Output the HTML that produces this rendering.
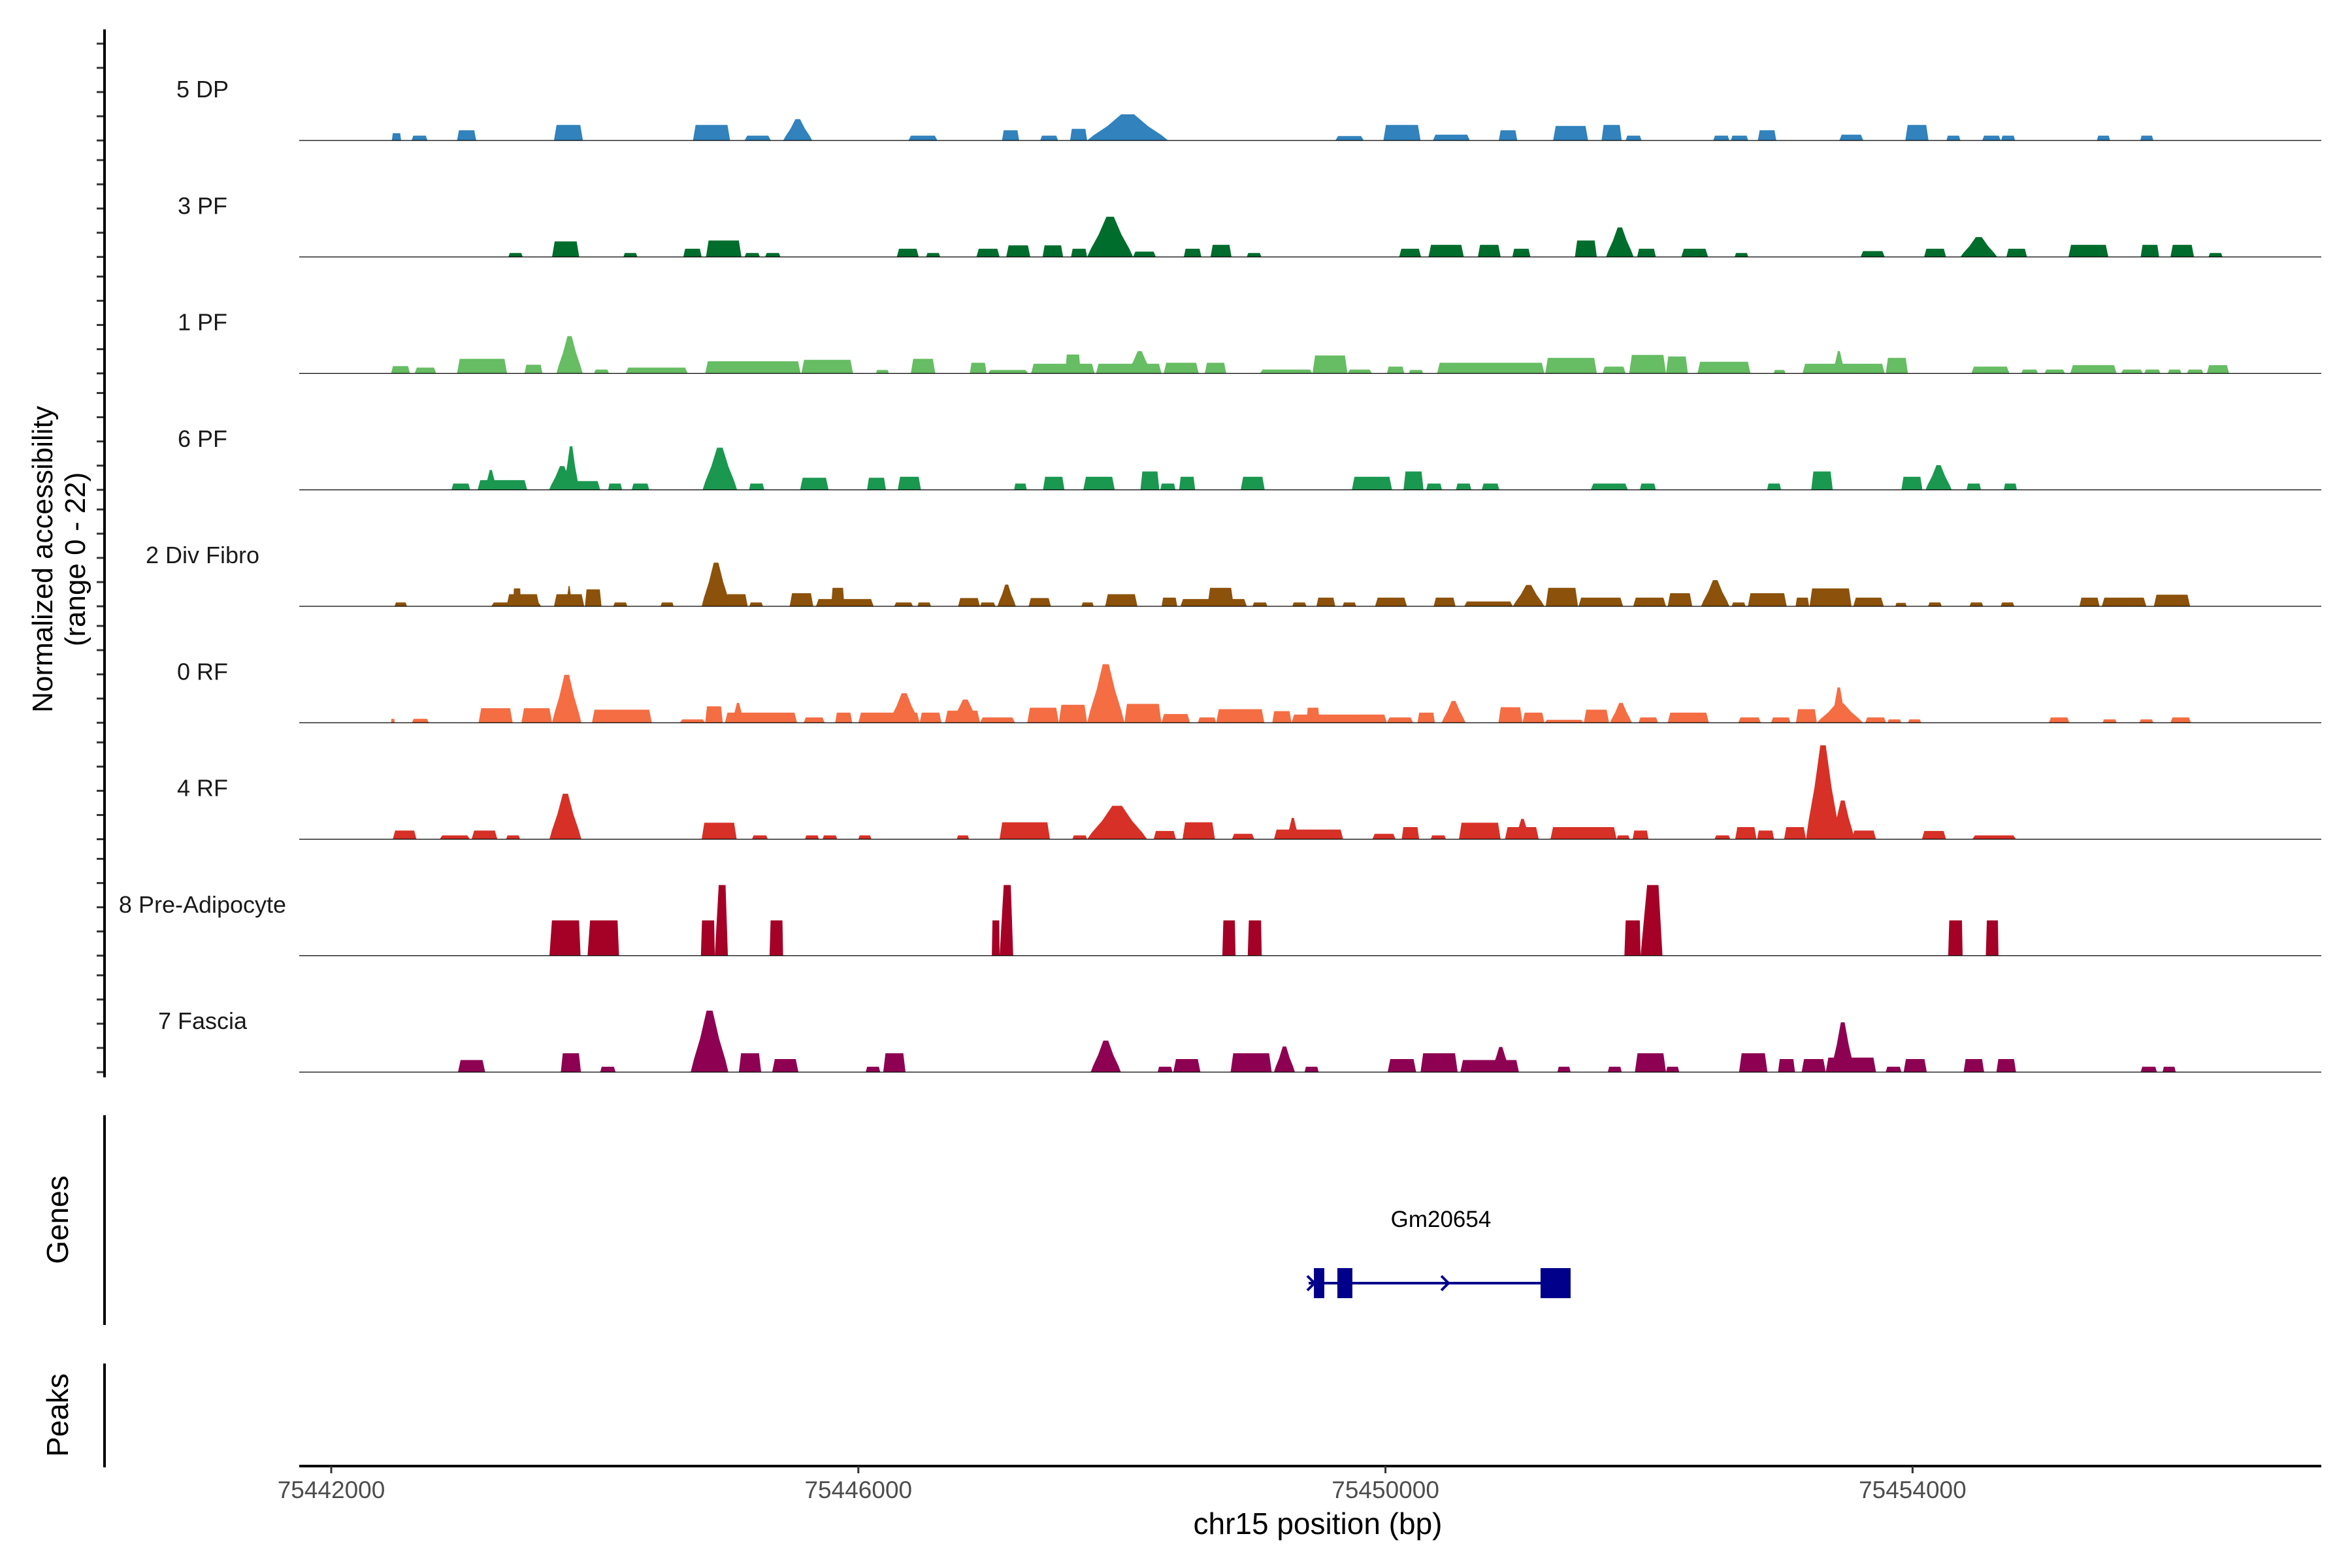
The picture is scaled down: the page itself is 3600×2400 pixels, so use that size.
<!DOCTYPE html>
<html><head><meta charset="utf-8"><title>Coverage plot chr15</title>
<style>
html,body{margin:0;padding:0;background:#fff;}
svg{display:block;font-family:"Liberation Sans",Arial,sans-serif;}
</style></head>
<body>
<svg id="chart" xmlns="http://www.w3.org/2000/svg" width="3600" height="2400" viewBox="0 0 3600 2400">
<rect x="0" y="0" width="3600" height="2400" fill="#fff"/>
<g id="tracks"></g>
<g id="yaxis"></g>
<text transform="translate(80,856) rotate(-90)" text-anchor="middle" font-size="44" fill="#000">Normalized accessibility</text>
<text transform="translate(130,856) rotate(-90)" text-anchor="middle" font-size="44" fill="#000">(range 0 - 22)</text>
<line x1="160" y1="1707" x2="160" y2="2028" stroke="#000" stroke-width="4"/>
<text transform="translate(104,1867) rotate(-90)" text-anchor="middle" font-size="46" fill="#000">Genes</text>
<line x1="160" y1="2087" x2="160" y2="2246" stroke="#000" stroke-width="4"/>
<text transform="translate(104,2166) rotate(-90)" text-anchor="middle" font-size="46" fill="#000">Peaks</text>
<g id="genes"></g>
<g id="xaxis"></g>
<text x="2017" y="2364" text-anchor="middle" font-size="46" fill="#000" dy="-16">chr15 position (bp)</text>
</svg>
<script>
// ---- data ----
const trackNames = ["5 DP","3 PF","1 PF","6 PF","2 Div Fibro","0 RF","4 RF","8 Pre-Adipocyte","7 Fascia"];
const trackColors = ["#3182BD","#006D2C","#66BD63","#1A9850","#8C510A","#F46D43","#D73027","#A50026","#8E0152"];
const xTicks = [75442000,75446000,75450000,75454000];
const xTickLabels = ["75442000","75446000","75450000","75454000"];
const yTicks = [0,5,10,15,20];
const yMax = 22;
const geneName = "Gm20654";
const geneStart = 75449417, geneEnd = 75451405;
const geneExons = [[75449457,75449536],[75449635,75449749],[75451177,75451405]];
const geneStrandArrows = [75449417,75450434];

const dp5 = [[75442460,75442530,1.5],[75442610,75442730,1.0],[75442955,75443100,2.1],[75443690,75443910,3.2],[75444745,75445027,3.2],[75445137,75445336,1.0],[75445430,75445650,4.4],[75446380,75446600,1.0],
[75447090,75447220,2.1],[75447380,75447515,1.0],[75447607,75447736,2.4],[75447736,75448351,5.4],[75449620,75449835,0.9],[75449984,75450266,3.2],[75450360,75450640,1.2],[75450860,75451000,2.1],[75451272,75451538,3.0],[75451640,75451793,3.2],[75451823,75451943,1.0],
[75452488,75452610,1.0],[75452620,75452753,1.0],[75452826,75452966,2.1],[75453444,75453626,1.2],[75453945,75454121,3.2],[75454257,75454363,1.0],[75454529,75454669,1.0],[75454672,75454778,1.0],[75455399,75455499,1.0],[75455728,75455827,1.0]];
const pf3 = [[75443344,75443453,0.8],[75443676,75443882,3.2],[75444217,75444323,0.8],[75444672,75444811,1.7],[75444844,75445113,3.4],[75445137,75445253,0.8],[75445293,75445409,0.8],[75446292,75446458,1.7],[75446514,75446621,0.8],[75446896,75447072,1.7],
[75447122,75447305,2.4],[75447398,75447554,2.4],[75447614,75447736,1.7],[75447736,75448085,8.3],[75448085,75448258,1.1],[75448470,75448603,1.7],[75448673,75448832,2.5],[75448948,75449058,0.8],[75450104,75450270,1.7],[75450326,75450595,2.5],[75450701,75450874,2.5],[75450963,75451100,1.7],[75451438,75451604,3.4],[75451674,75451883,6.1],[75451910,75452052,1.7],
[75452245,75452448,1.7],[75452650,75452753,0.8],[75453606,75453789,1.2],[75454088,75454254,1.7],[75454363,75454642,4.1],[75454712,75454868,1.7],[75455183,75455486,2.5],[75455731,75455871,2.5],[75455957,75456136,2.5],[75456246,75456352,0.8]];
const pf1 = [[75442454,75442597,1.5],[75442633,75442796,1.2],[75442955,75443334,3.0],[75443467,75443603,1.8],[75443709,75443908,7.7],[75443995,75444107,0.8],[75444234,75444705,1.2],[75444838,75445562,2.5],[75445568,75445960,2.8],[75446133,75446232,0.7],[75446398,75446584,3.0],[75446846,75446973,2.2],
[75446983,75447288,0.7],[75447311,75447793,2.0],[75447570,75447687,3.9],[75447803,75448301,2.0],[75448040,75448230,4.6],[75448317,75448583,2.2],[75448629,75448792,2.2],[75449048,75449446,0.8],[75449446,75449712,3.7],[75449712,75449898,0.8],[75450011,75450143,1.4],[75450177,75450286,0.7],[75450392,75451206,2.2],[75451212,75451604,3.2],[75451647,75451823,1.4],[75451850,75452129,3.8],
[75452129,75452295,3.5],[75452368,75452770,2.4],[75452946,75453035,0.7],[75453165,75453789,2.0],[75453391,75453490,4.6],[75453796,75453965,3.2],[75454446,75454735,1.4],[75454825,75454951,0.8],[75455001,75455157,0.8],[75455197,75455549,1.7],[75455582,75455748,0.8],[75455758,75455881,0.8],[75455937,75456040,0.8],[75456083,75456206,0.8],[75456233,75456402,1.7]];
const pf6 = [[75442912,75443055,1.3],[75443111,75443487,2.0],[75443161,75443261,4.1],[75443653,75443850,4.9],[75443760,75443880,9.0],[75443850,75444041,1.8],[75444101,75444207,1.3],[75444280,75444413,1.3],[75444818,75445080,8.7],[75445170,75445286,1.3],[75445558,75445774,2.5],[75446066,75446209,2.5],[75446299,75446475,2.7],
[75447182,75447278,1.3],[75447401,75447564,2.7],[75447707,75447946,2.7],[75448141,75448284,3.8],[75448291,75448407,1.3],[75448434,75448556,2.7],[75448902,75449084,2.7],[75449745,75450050,2.7],[75450137,75450289,3.8],[75450309,75450429,1.3],[75450535,75450651,1.3],[75450731,75450864,1.3],[75451558,75451840,1.3],[75451930,75452052,1.3],
[75452896,75453002,1.3],[75453231,75453394,3.8],[75453915,75454075,2.7],[75454098,75454297,5.1],[75454410,75454519,1.3],[75454692,75454792,1.3]];
const divFibro2 = [[75442481,75442574,0.8],[75443214,75443593,0.8],[75443330,75443580,2.5],[75443380,75443440,3.7],[75443690,75443920,2.5],[75443780,75443830,4.2],[75443925,75444051,3.5],[75444141,75444247,0.8],[75444499,75444599,0.8],[75444811,75445030,9.0],[75444990,75445160,2.5],[75445173,75445276,0.8],[75445479,75445658,2.7],[75445678,75446116,1.5],[75445794,75445894,3.8],[75446272,75446415,0.8],[75446448,75446551,0.8],[75446757,75446923,1.7],
[75446923,75447040,0.8],[75447056,75447195,4.5],[75447292,75447461,1.7],[75447693,75447786,0.8],[75447873,75448118,2.5],[75448301,75448420,1.8],[75448444,75448948,1.5],[75448649,75448849,3.8],[75448991,75449104,0.8],[75449293,75449400,0.8],[75449476,75449619,1.8],[75449675,75449778,0.8],[75449921,75450163,1.8],[75450366,75450532,1.8],[75450598,75450967,1.0],[75450967,75451206,4.4],[75451216,75451461,3.8],[75451465,75451803,1.8],[75451880,75452129,1.8],
[75452142,75452328,2.7],[75452395,75452610,5.4],[75452627,75452733,0.8],[75452750,75453045,2.7],[75453112,75453215,1.8],[75453218,75453537,3.7],[75453550,75453782,1.8],[75453869,75453955,0.7],[75454118,75454221,0.8],[75454433,75454536,0.8],[75454669,75454772,0.8],[75455266,75455419,1.8],[75455436,75455774,1.8],[75455831,75456106,2.4]];
const rf0 = [[75442454,75442481,0.8],[75442613,75442740,0.8],[75443118,75443377,3.0],[75443443,75443676,3.0],[75443676,75443898,9.9],[75443978,75444433,2.7],[75444645,75444838,0.7],[75444838,75444971,3.4],[75444987,75445535,2.1],[75445037,75445137,4.1],[75445585,75445744,1.1],[75445824,75445953,2.1],[75446000,75446465,2.1],[75446230,75446465,6.1],[75446465,75446631,2.1],[75446657,75446923,2.5],[75446700,75446923,4.8],
[75446923,75447189,1.1],[75447282,75447521,3.1],[75447521,75447736,3.7],[75447736,75448019,12.1],[75448019,75448300,3.9],[75448300,75448517,1.8],[75448576,75448716,1.1],[75448716,75449081,2.8],[75449141,75449287,2.4],[75449287,75450011,1.7],[75449400,75449500,3.1],[75450011,75450210,1.1],[75450243,75450376,2.1],[75450426,75450608,4.5],[75450857,75451040,3.2],[75451040,75451206,2.1],[75451206,75451505,0.6],[75451505,75451697,2.7],[75451704,75451870,4.1],[75451920,75452069,1.1],
[75452142,75452454,2.1],[75452677,75452849,1.1],[75452926,75453075,1.1],[75453115,75453274,2.8],[75453274,75453623,4.0],[75453380,75453500,7.3],[75453640,75453799,1.1],[75453809,75453915,0.7],[75453965,75454065,0.7],[75455034,75455190,1.1],[75455442,75455549,0.7],[75455721,75455827,0.7],[75455957,75456113,1.1]];
const rf4 = [[75442467,75442647,1.8],[75442823,75443052,0.8],[75443065,75443261,1.8],[75443327,75443433,0.8],[75443656,75443898,9.4],[75444811,75445077,3.4],[75445193,75445313,0.8],[75445595,75445701,0.8],[75445728,75445840,0.8],[75446000,75446099,0.8],[75446747,75446840,0.8],
[75447072,75447454,3.5],[75447624,75447736,0.8],[75447736,75448191,6.9],[75448241,75448410,1.7],[75448460,75448706,3.5],[75448835,75449005,1.1],[75449154,75449679,2.0],[75449247,75449347,4.4],[75449901,75450077,1.1],[75450123,75450256,2.5],[75450343,75450459,0.8],[75450558,75450874,3.4],[75450907,75451163,2.5],[75450980,75451100,4.2],[75451252,75451754,2.5],[75451754,75451853,0.8],[75451876,75451996,1.8],
[75452498,75452617,0.8],[75452654,75452816,2.5],[75452820,75452949,1.8],[75453025,75453191,2.5],[75453191,75453450,19.4],[75453380,75453560,8.0],[75453540,75453723,1.8],[75454071,75454254,1.7],[75454453,75454785,0.8]];
const preAdipocyte8 = [[75443656,75443892,7.3],[75443945,75444184,7.3],[75444805,75444911,7.3],[75444911,75445010,14.6],[75445326,75445429,7.3],[75447013,75447072,7.3],[75447072,75447175,14.6],[75448762,75448862,7.3],[75448955,75449061,7.3],[75451813,75451936,7.3],[75451936,75452102,14.6],[75454270,75454380,7.3],[75454556,75454652,7.3]];
const fascia7 = [[75442962,75443168,2.5],[75443742,75443895,3.9],[75444041,75444157,1.1],[75444728,75445014,12.7],[75445093,75445263,3.9],[75445346,75445545,2.7],[75446056,75446166,1.1],[75446189,75446358,3.9],
[75447763,75447992,6.5],[75448271,75448384,1.1],[75448390,75448596,2.7],[75448825,75449137,3.9],[75449154,75449313,5.3],[75449386,75449493,1.1],[75450017,75450233,2.7],[75450266,75450548,3.9],[75450568,75451013,2.5],[75450800,75450950,5.2],[75451305,75451405,1.1],[75451687,75451793,1.1],[75451893,75452129,3.9],
[75452129,75452229,1.1],[75452683,75452899,3.9],[75452979,75453108,2.7],[75453158,75453341,2.7],[75453341,75453723,3.0],[75453380,75453560,10.3],[75453796,75453915,1.1],[75453932,75454108,2.7],[75454387,75454543,2.7],[75454636,75454785,2.7],[75455731,75455854,1.1],[75455897,75455997,1.1]];
const trackData = [dp5,pf3,pf1,pf6,divFibro2,rf0,rf4,preAdipocyte8,fascia7];

// ---- layout ----
const NS = "http://www.w3.org/2000/svg";
const plotLeft = 458, plotRight = 3553;
const firstBaseline = 215, trackStep = 178.25, trackH = 163;
function xScale(bp){ return 507 + (bp - 75442000) * 806.8 / 4000; }
function yScale(v, i){ const b = firstBaseline + trackStep * i; return b - v / yMax * trackH; }
function mk(tag, attrs, parent){ const e = document.createElementNS(NS, tag); for (const k in attrs) e.setAttribute(k, attrs[k]); parent.appendChild(e); return e; }

const tracksG = document.getElementById('tracks');
const yG = document.getElementById('yaxis');
trackData.forEach((peaks, i) => {
  const g = mk('g', {}, tracksG);
  
  
  const base = yScale(0, i);
  peaks.forEach(p => {
    const s = xScale(p[0]), e = xScale(p[1]), w = e - s, c = (s + e) / 2;
    const top = yScale(p[2], i), mid = yScale(p[2] * 0.55, i), low = yScale(p[2] * 0.2, i);
    let pts;
    if (i === 7) {
      const ins = p[2] > 10 ? w * 0.3 : w * 0.08;
      pts = [[s, base], [s + ins, top], [e - ins * 0.6, top], [e, base]];
    } else if (p[2] >= 4) {
      pts = [[s, base], [s + w * 0.08, low], [s + w * 0.25, mid], [c - w * 0.08, top], [c + w * 0.08, top], [e - w * 0.25, mid], [e - w * 0.08, low], [e, base]];
    } else {
      pts = [[s, base], [s + Math.min(w * 0.1, 4), top], [e - Math.min(w * 0.1, 4), top], [e, base]];
    }
    const poly = mk('polygon', { points: pts.map(q => q[0].toFixed(1) + ',' + q[1].toFixed(1)).join(' '), fill: trackColors[i] }, g);
    
    
  });
  const bl = mk('line', { x1: plotLeft, x2: plotRight, y1: base, y2: base, stroke: '#000', 'stroke-width': 1.2 }, g);
  
  
  const lab = mk('text', { x: 310, y: base - 79 + 13, 'text-anchor': 'middle', 'font-size': 36, fill: '#1a1a1a' }, g);
  lab.textContent = trackNames[i];
  
  
  yTicks.forEach(t => {
    const y = yScale(t, i);
    const tk = mk('line', { x1: 148, x2: 160, y1: y, y2: y, stroke: '#333', 'stroke-width': 3 }, yG);
    
    
  });
});
const yl = mk('line', { x1: 160, x2: 160, y1: 45, y2: 1649, stroke: '#000', 'stroke-width': 4 }, yG);



// genes
const gG = document.getElementById('genes');
const gy = 1964;
const gl = mk('line', { x1: xScale(geneStart), x2: xScale(geneEnd), y1: gy, y2: gy, stroke: '#00008B', 'stroke-width': 4 }, gG);


geneExons.forEach(ex => {
  const r = mk('rect', { x: xScale(ex[0]), y: gy - 23, width: xScale(ex[1]) - xScale(ex[0]), height: 46, fill: '#00008B' }, gG);
  
  
});
geneStrandArrows.forEach(a => {
  const x = xScale(a);
  const ar = mk('polyline', { points: (x - 2) + ',' + (gy - 11) + ' ' + (x + 9) + ',' + gy + ' ' + (x - 2) + ',' + (gy + 11), fill: 'none', stroke: '#00008B', 'stroke-width': 4 }, gG);
  
  
});
const gt = mk('text', { x: xScale((geneStart + geneEnd) / 2) + 2, y: 1878, 'text-anchor': 'middle', 'font-size': 35, fill: '#000' }, gG);
gt.textContent = geneName;



// x axis
const xG = document.getElementById('xaxis');
const xl = mk('line', { x1: plotLeft, x2: plotRight, y1: 2244, y2: 2244, stroke: '#000', 'stroke-width': 4 }, xG);


xTicks.forEach((t, k) => {
  const x = xScale(t);
  const tk = mk('line', { x1: x, x2: x, y1: 2244, y2: 2255, stroke: '#333', 'stroke-width': 3 }, xG);
  
  
  const tl = mk('text', { x: x, y: 2293, 'text-anchor': 'middle', 'font-size': 37, fill: '#4d4d4d' }, xG);
  tl.textContent = xTickLabels[k];
  
  
});
</script>
</body></html>
